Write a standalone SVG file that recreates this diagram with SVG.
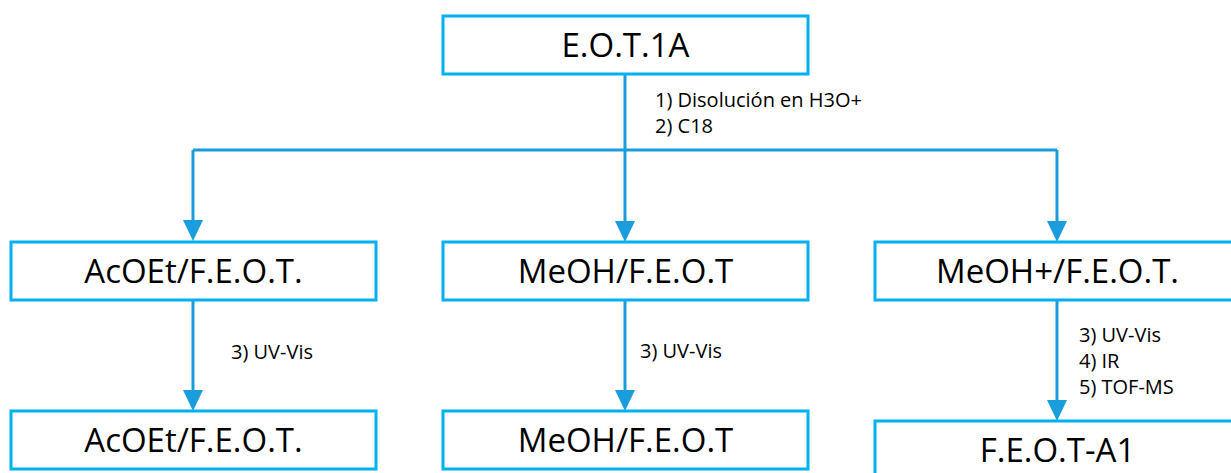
<svg xmlns="http://www.w3.org/2000/svg" width="1231" height="473" viewBox="0 0 1231 473">
  <style>
    .box { fill: #ffffff; stroke: #00b0f0; stroke-width: 3; }
    .title { font-family: "Open Sans", "Noto Sans", sans-serif; font-size: 33px; fill: #000000; text-anchor: middle; }
    .note { font-family: "Open Sans", "Noto Sans", sans-serif; font-size: 20px; fill: #000000; }
    .wire { fill: none; stroke: #1a9ddc; stroke-width: 3; }
  </style>
  <defs>
    <marker id="arrow" markerUnits="userSpaceOnUse" markerWidth="22" markerHeight="22" refX="0" refY="10" orient="auto" viewBox="0 0 22 22">
      <path d="M0,0 L21,10 L0,20 Z" fill="#1a9ddc"/>
    </marker>
  </defs>
  <rect width="1231" height="473" fill="#ffffff"/>

  <!-- connectors -->
  <g id="connectors">
    <path class="wire" d="M625,74 V150"/>
    <path class="wire" d="M193,150 H1057"/>
    <path class="wire" d="M193,150 V220" marker-end="url(#arrow)"/>
    <path class="wire" d="M625,150 V221" marker-end="url(#arrow)"/>
    <path class="wire" d="M1057,150 V221" marker-end="url(#arrow)"/>
    <path class="wire" d="M193,300 V390" marker-end="url(#arrow)"/>
    <path class="wire" d="M625,300 V390" marker-end="url(#arrow)"/>
    <path class="wire" d="M1057,300 V400" marker-end="url(#arrow)"/>
    <text class="note" x="655" y="107">1) Disolución en H3O+</text>
    <text class="note" x="655" y="133">2) C18</text>
    <text class="note" x="231" y="359">3) UV-Vis</text>
    <text class="note" x="640" y="358">3) UV-Vis</text>
    <text class="note" x="1079" y="342">3) UV-Vis</text>
    <text class="note" x="1079" y="368">4) IR</text>
    <text class="note" x="1079" y="394">5) TOF-MS</text>
  </g>

  <g id="eot1a">
    <rect class="box" x="443" y="16" width="365" height="58"/>
    <text class="title" x="625.5" y="57">E.O.T.1A</text>
  </g>
  <g id="acoet-feot">
    <rect class="box" x="11" y="242" width="365" height="58"/>
    <text class="title" x="193.5" y="283">AcOEt/F.E.O.T.</text>
  </g>
  <g id="meoh-feot">
    <rect class="box" x="443" y="242" width="365" height="58"/>
    <text class="title" x="625.5" y="283">MeOH/F.E.O.T</text>
  </g>
  <g id="meohplus-feot">
    <rect class="box" x="875" y="242" width="365" height="58"/>
    <text class="title" x="1057.5" y="283">MeOH+/F.E.O.T.</text>
  </g>
  <g id="acoet-feot-2">
    <rect class="box" x="11" y="411" width="365" height="58"/>
    <text class="title" x="193.5" y="452">AcOEt/F.E.O.T.</text>
  </g>
  <g id="meoh-feot-2">
    <rect class="box" x="443" y="411" width="365" height="58"/>
    <text class="title" x="625.5" y="452">MeOH/F.E.O.T</text>
  </g>
  <g id="feot-a1">
    <rect class="box" x="875" y="421" width="365" height="58"/>
    <text class="title" x="1057.5" y="462">F.E.O.T-A1</text>
  </g>
</svg>
